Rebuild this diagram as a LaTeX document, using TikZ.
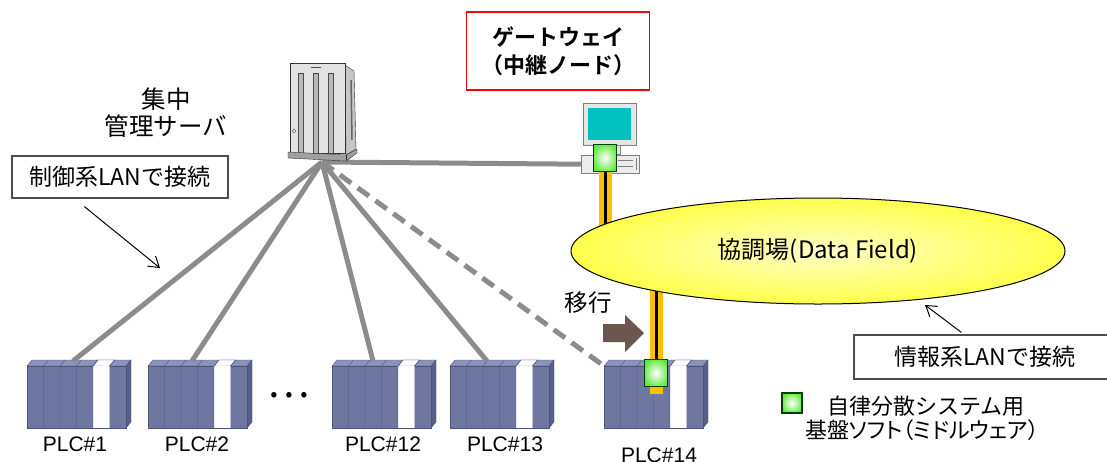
\documentclass[tikz,border=0pt]{standalone}
\usepackage{fontspec}
\setmainfont{Noto Sans CJK JP}[BoldFont={Noto Sans CJK JP Bold}]
\newfontfamily\plcfont{Liberation Sans}
\usetikzlibrary{arrows.meta,calc,shapes.geometric}

\definecolor{plcfront}{RGB}{111,119,160}
\definecolor{plctop}{RGB}{140,147,186}
\definecolor{plcside}{RGB}{88,95,136}
\definecolor{plcedge}{RGB}{76,83,122}
\definecolor{langray}{RGB}{140,140,140}
\definecolor{cableorange}{RGB}{255,192,0}
\definecolor{mwgreen}{RGB}{96,232,60}
\definecolor{movebrown}{RGB}{107,87,80}
\definecolor{screencyan}{RGB}{0,192,192}

\pgfdeclareradialshading{fieldglow}{\pgfpoint{0bp}{0bp}}{color(0bp)=(yellow!22);color(40bp)=(yellow);color(50bp)=(yellow)}
\pgfdeclareradialshading{mwglow}{\pgfpoint{0bp}{0bp}}{color(0bp)=(white);color(28bp)=(mwgreen);color(50bp)=(mwgreen)}

\tikzset{
  plcface/.style={draw=plcedge,fill=plcfront,minimum width=99,minimum height=62,inner sep=0,anchor=north west},
  plclabel/.style={font=\plcfont\fontsize{21}{24}\selectfont},
  lanline/.style={draw=langray,line width=5},
  cable/.style={draw=cableorange,line width=13},
  wire/.style={draw=black,line width=3},
  mwbox/.style={draw=black!75!green,line width=1.5,shade,shading=mwglow,minimum width=23,minimum height=27,inner sep=0},
  field/.style={ellipse,draw=black,line width=1,shade,shading=fieldglow,minimum width=494,minimum height=106,font=\fontsize{24}{28}\selectfont},
  textbox/.style={draw=black!70,line width=1.2,inner sep=0,font=\fontsize{23}{27}\selectfont},
  note/.style={draw=black,line width=1,-{Straight Barb[length=10pt,width=13pt]}},
  jptext/.style={font=\fontsize{#1}{27}\selectfont,align=center}
}

\begin{document}
\begin{tikzpicture}[x=1pt,y=-1pt]
\useasboundingbox (0,0) rectangle (1107,461);

% PLC racks: six slots, the fifth one left white
\foreach \x/\n/\t/\lx/\ly/\tx in {27/plca/PLC\#1/75/444/46, 148/plcb/PLC\#2/197/444/44,
                                  332/plcl/PLC\#12/383/444/41, 450/plcm/PLC\#13/505/444/37,
                                  604/plcn/PLC\#14/659/455/40}{
  \filldraw[fill=plctop,draw=plcedge] (\x,366) -- ++(5,-6) -- ++(99,0) -- ++(-5,6) -- cycle;
  \filldraw[fill=plcside,draw=plcedge] ({\x+99},366) -- ++(5,-6) -- ++(0,62) -- ++(-5,6) -- cycle;
  \node[plcface] (\n) at (\x,366) {};
  \filldraw[fill=white,draw=plcedge] ({\x+66},366) -- ++(5,-6) -- ++(16.5,0) -- ++(-5,6) -- cycle;
  \fill[white] ({\x+66},366) rectangle ({\x+82.5},428);
  \foreach \k in {1,...,5}
    \draw[plcedge] ({\x+\k*16.5},366) -- ++(0,62) ({\x+\k*16.5},366) -- ++(5,-6);
  \coordinate (\n-top) at ({\x+\tx},361);
  \node[plclabel] (\n-name) at (\lx,\ly) {\t};
}
\node[font=\fontsize{40}{40}\selectfont] (dots) at (289,395) {…};

% gateway PC
\node[draw=gray,fill=gray!20,minimum width=53,minimum height=42,inner sep=0,anchor=north west] (gwpc) at (583,103) {};
\fill[screencyan] (588,108) rectangle (631,140);
\filldraw[fill=gray!20,draw=gray] (600,145) rectangle (620,154);
\node[draw=gray,fill=gray!15,minimum width=58,minimum height=18,inner sep=0,anchor=north west] (gwbase) at (581,155) {};
\draw[gray] (618,160) -- (633,160) (618,166) -- (633,166) (636,158) -- (636,170);

% LAN lines from the server
\coordinate (hub) at (322,162);
\foreach \n in {plca,plcb,plcl,plcm}
  \draw[lanline] (hub) -- (\n-top);
\draw[lanline,dash pattern=on 14pt off 8pt] (hub) -- (plcn.north west);
\draw[lanline] (hub) -- (gwbase.west);

% server tower
\filldraw[fill=gray!45,draw=black!80] (345,65) -- (354,71) -- (356,149) -- (346,155) -- cycle;
\draw[black!60,line width=1.5] (351,80) -- (352,140);
\node[draw=black!80,fill=gray!22,minimum width=55,minimum height=90,inner sep=0,anchor=north west] (server) at (290,63) {};
\foreach \sx in {298,313,328}
  \filldraw[fill=gray!55,draw=black!70] (\sx,73) rectangle ++(5,80);
\draw[black!70] (294,131) circle (1.8);
\draw[black!70,line width=1] (311,67) -- (321,67);
\filldraw[fill=gray!75,draw=black!80] (288,152) -- (346,155) -- (357,149) -- (357,153) -- (346,161) -- (288,158) -- cycle;
\draw[black!80] (346,155) -- (346,161);
\node[jptext=24.5] (srvlabel) at (166,113) {集中\\管理サーバ};

% middleware links
\coordinate (gwlink) at (605,158);
\coordinate (plclink) at (656,373);
\draw[cable] (gwlink) -- ++(0,85);
\draw[wire] (gwlink) -- ++(0,85);
\draw[cable] (plclink) ++(0,-110) -- ++(0,131);
\draw[wire] (plclink) ++(0,-110) -- ++(0,105);

\node[field] (field) at (818,251) {協調場(Data Field)};

\node[mwbox] (gwmw) at (gwlink) {};
\node[mwbox] (plcmw) at (plclink) {};

% migration
\fill[movebrown] (603,324) -- (625,324) -- (625,315) -- (644,333) -- (625,352) -- (625,342) -- (603,342) -- cycle;
\node[jptext=23.5] (move) at (588,303) {移行};

% labels
\node[draw=red,line width=1.5,minimum width=183,minimum height=78,align=center,
      font=\bfseries\fontsize{22}{28}\selectfont] (gwlabel) at (558,51) {ゲートウェイ\\（中継ノード）};

\node[textbox,minimum width=216,minimum height=42] (ctrlbox) at (120,177) {制御系LANで接続};
\coordinate (ctrltip) at (160,268);
\draw[note] ($(ctrlbox.south west)+(73,8)$) -- (ctrltip);

\node[textbox,minimum width=262,minimum height=44] (infobox) at (985,357) {情報系LANで接続};
\coordinate (infotip) at (925,305);
\draw[note] ($(infobox.north west)+(108,-2)$) -- (infotip);

% legend
\node[mwbox,minimum width=20,minimum height=20] (legendmw) at (792,403) {};
\node[jptext=22] (legend1) at (926,406) {自律分散システム用};
\node[jptext=22] (legend2) at (922,430) {\addfontfeature{RawFeature=+palt}基盤ソフト（ミドルウェア）};
\end{tikzpicture}
\end{document}
